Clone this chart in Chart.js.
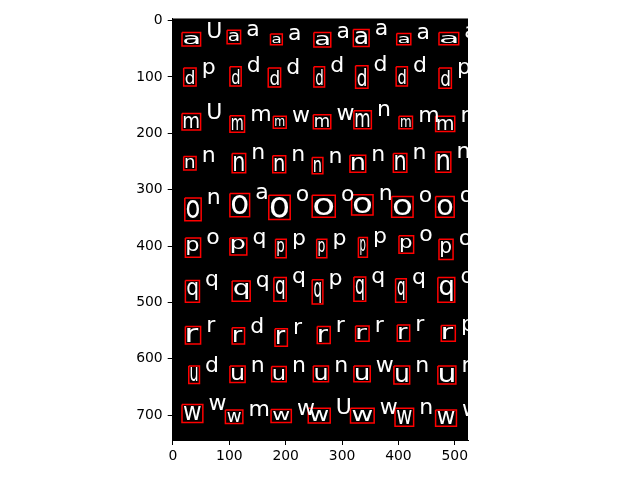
<!DOCTYPE html>
<html>
<head>
<meta charset="utf-8">
<script src="https://cdn.jsdelivr.net/npm/chart.js@4/dist/chart.umd.min.js"></script>
<style>
html,body{margin:0;padding:0;background:#fff;}
#wrap{width:640px;height:480px;}
</style>
</head>
<body>
<div id="wrap"><canvas id="c" width="640" height="480"></canvas></div>
<script>
// True letter of each row (handwritten glyphs)
const rowLetters = ['a','d','m','n','o','p','q','r','u','w'];
// Predicted labels drawn next to each box, per row
const predLabels = [
  ['U','a','a','a','a','a','a'],
  ['p','d','d','d','d','d','p'],
  ['U','m','w','w','n','m','m'],
  ['n','n','n','n','n','n','n'],
  ['n','a','o','o','n','o','o'],
  ['o','q','p','p','p','o','o'],
  ['q','q','q','p','q','q','q'],
  ['r','d','r','r','r','r','p'],
  ['d','n','n','n','w','n','n'],
  ['w','m','w','U','w','n','w']
];
// Bounding boxes in image pixel coordinates: left, top, right, bottom (per row)
const boxLeft = [
  [16,96,173,250,320,397,472],
  [19,101,169,250,324,396,472],
  [16,101,178,249,321,401,466],
  [19,105,177,247,314,391,466],
  [21,101,170,247,317,388,466],
  [22,101,182,255,329,401,472],
  [22,105,179,247,321,395,470],
  [22,105,181,256,324,398,476],
  [28,101,175,249,321,392,470],
  [16,93,174,240,315,394,466]
];
const boxTop = [
  [21,17,24,21,16,23,21],
  [84,82,84,82,80,82,84],
  [165,169,170,167,160,170,170],
  [241,236,240,243,239,236,233],
  [315,307,310,310,309,312,312],
  [386,386,388,388,385,382,388],
  [461,462,456,460,455,458,456],
  [543,545,547,543,542,540,541],
  [613,613,614,613,613,613,613],
  [681,691,690,688,688,688,691]
];
const boxRight = [
  [49,120,194,280,348,422,507],
  [41,121,191,269,346,416,494],
  [49,127,201,280,352,425,500],
  [41,129,200,266,342,415,493],
  [50,136,208,288,355,426,499],
  [49,131,201,273,345,427,497],
  [47,137,201,266,342,414,500],
  [49,127,203,279,348,420,501],
  [47,128,201,276,350,420,502],
  [53,124,210,279,357,427,503]
];
const boxBottom = [
  [45,41,43,47,46,43,43],
  [116,116,118,118,120,116,120],
  [194,198,191,192,192,192,197],
  [265,270,270,272,269,269,269],
  [355,348,353,349,345,349,349],
  [420,416,421,421,420,413,424],
  [500,498,498,503,498,500,500],
  [574,574,578,573,569,569,569],
  [644,642,641,641,641,645,645],
  [713,715,713,714,714,720,720]
];
const xTicks = [0,100,200,300,400,500];
const yTicks = [0,100,200,300,400,500,600,700];
const labelOffset = 10; // label offset from box corner in image pixels

// Build one closed-outline dataset per box
const datasets = [];
for (let r = 0; r < boxLeft.length; r++) {
  for (let i = 0; i < boxLeft[r].length; i++) {
    const l = boxLeft[r][i], t = boxTop[r][i], rt = boxRight[r][i], b = boxBottom[r][i];
    datasets.push({
      type: 'line',
      data: [{x:l,y:t},{x:rt,y:t},{x:rt,y:b},{x:l,y:b},{x:l,y:t}],
      borderColor: '#ff0000',
      borderWidth: 1.5,
      pointRadius: 0,
      fill: false,
      tension: 0
    });
  }
}

const imagePlugin = {
  id: 'imagePlugin',
  beforeDatasetsDraw(chart) {
    const {ctx, chartArea: a, scales: {x, y}} = chart;
    ctx.save();
    ctx.beginPath();
    ctx.rect(a.left, a.top, a.right - a.left, a.bottom - a.top);
    ctx.clip();
    ctx.fillStyle = '#000';
    ctx.fillRect(a.left, a.top, a.right - a.left, a.bottom - a.top);
    // handwritten glyphs (approximated with stretched letters)
    ctx.fillStyle = '#fff';
    ctx.font = '100px "DejaVu Sans"';
    for (let r = 0; r < boxLeft.length; r++) {
      const ch = rowLetters[r];
      const m = ctx.measureText(ch);
      const gw = m.actualBoundingBoxLeft + m.actualBoundingBoxRight;
      const gh = m.actualBoundingBoxAscent + m.actualBoundingBoxDescent;
      for (let i = 0; i < boxLeft[r].length; i++) {
        const px1 = x.getPixelForValue(boxLeft[r][i]) + 2;
        const px2 = x.getPixelForValue(boxRight[r][i]) - 2;
        const py1 = y.getPixelForValue(boxTop[r][i]) + 2;
        const py2 = y.getPixelForValue(boxBottom[r][i]) - 2;
        ctx.save();
        ctx.translate(px1, py1);
        ctx.scale((px2 - px1) / gw, (py2 - py1) / gh);
        ctx.fillText(ch, m.actualBoundingBoxLeft, m.actualBoundingBoxAscent);
        ctx.restore();
      }
    }
    ctx.restore();
  },
  afterDatasetsDraw(chart) {
    const {ctx, chartArea: a, scales: {x, y}} = chart;
    ctx.save();
    ctx.beginPath();
    ctx.rect(a.left, a.top, a.right - a.left, a.bottom - a.top);
    ctx.clip();
    ctx.fillStyle = '#fff';
    ctx.font = '22px "DejaVu Sans"';
    ctx.textAlign = 'left';
    ctx.textBaseline = 'alphabetic';
    for (let r = 0; r < predLabels.length; r++) {
      for (let i = 0; i < predLabels[r].length; i++) {
        const px = x.getPixelForValue(boxRight[r][i] + labelOffset);
        const py = y.getPixelForValue(boxTop[r][i] + labelOffset);
        ctx.fillText(predLabels[r][i], px, py);
      }
    }
    ctx.restore();
  }
};

Chart.defaults.font.family = '"DejaVu Sans"';
Chart.defaults.font.size = 13.9;
Chart.defaults.color = '#000';

new Chart(document.getElementById('c'), {
  type: 'scatter',
  data: { datasets },
  options: {
    responsive: false,
    animation: false,
    events: [],
    layout: { padding: { left: 112.7, right: 172, top: 18.3, bottom: 0 } },
    plugins: { legend: { display: false }, tooltip: { enabled: false } },
    scales: {
      x: {
        type: 'linear',
        min: -0.5,
        max: 523.5,
        afterFit(s) { s.height = 40; },
        afterBuildTicks(s) { s.ticks = xTicks.map(v => ({value: v})); },
        grid: { drawOnChartArea: false, tickLength: 5, color: '#000', tickWidth: 1 },
        border: { display: true, color: '#000', width: 1 },
        ticks: { padding: 3, maxRotation: 0, autoSkip: false, color: '#000' }
      },
      y: {
        type: 'linear',
        reverse: true,
        min: -4,
        max: 744.2,
        afterFit(s) { s.width = 60; },
        afterBuildTicks(s) { s.ticks = yTicks.map(v => ({value: v})); },
        grid: { drawOnChartArea: false, tickLength: 5, color: '#000', tickWidth: 1 },
        border: { display: true, color: '#000', width: 1 },
        ticks: { padding: 5, autoSkip: false, color: '#000' }
      }
    }
  },
  plugins: [imagePlugin]
});
</script>
</body>
</html>
